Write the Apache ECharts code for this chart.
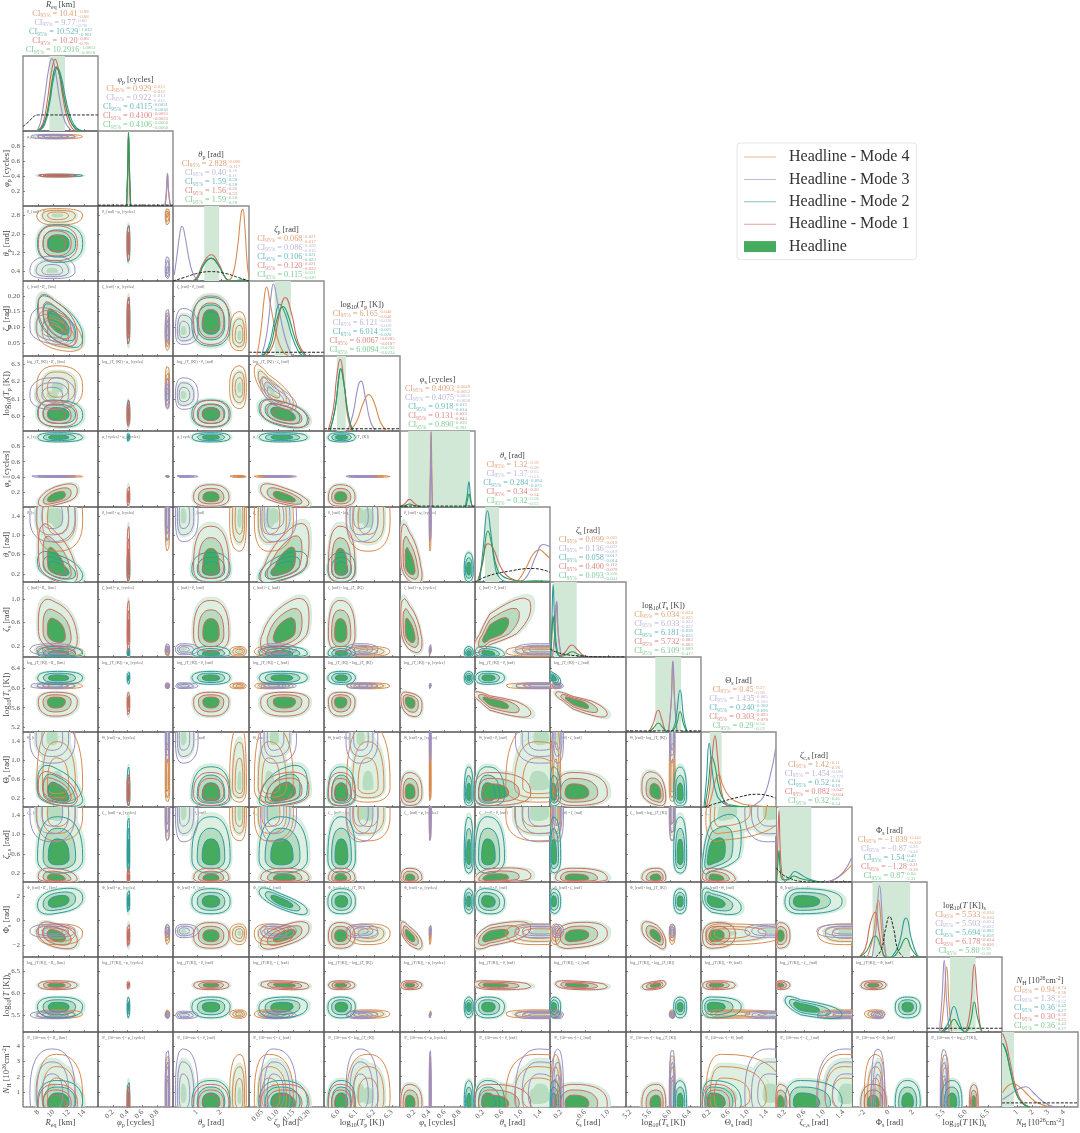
<!DOCTYPE html>
<html>
<head>
<meta charset="utf-8">
<title>Corner plot</title>
<script src="https://cdn.jsdelivr.net/npm/echarts@6/dist/echarts.min.js"></script>
<style>
  html, body { margin: 0; background: #fff; }
  #main { width: 1080px; height: 1133px; }
</style>
</head>
<body>
<div id="main"></div>
<script>
// parameters, in corner plot order
var paramLabels = ['R_{eq} [km]', 'φ_{p} [cycles]', 'θ_{p} [rad]', 'ζ_{p} [rad]', 'log_{10}(T_{p} [K])', 'φ_{s} [cycles]', 'θ_{s} [rad]', 'ζ_{s} [rad]', 'log_{10}(T_{s} [K])', 'Θ_{s} [rad]', 'ζ_{c,s} [rad]', 'Φ_{s} [rad]', 'log_{10}(T [K])_{s}', 'N_{H} [10^{26}cm^{-2}]']
var axisMin = [6, 0, 0, 0.008, 5.917, 0.01, 0.03, 0.007, 5.11, 0.018, 0.017, -3, 5.12, 0.03]
var axisMax = [15.8, 1.01, 3.18, 0.248, 6.346, 1, 1.59, 1.297, 6.62, 1.588, 1.572, 3.14, 6.816, 4.9]
var xTicks = [[8, 10, 12, 14], [0.2, 0.4, 0.6, 0.8], [1, 2], [0.05, 0.1, 0.15, 0.2], [6, 6.1, 6.2, 6.3], [0.2, 0.4, 0.6, 0.8], [0.2, 0.6, 1, 1.4], [0.2, 0.6, 1], [5.2, 5.6, 6, 6.4], [0.2, 0.6, 1, 1.4], [0.2, 0.6, 1, 1.4], [-2, 0, 2], [5.5, 6, 6.5], [1, 2, 3, 4]]
var yTicks = [[], [0.2, 0.4, 0.6, 0.8], [0.4, 1.2, 2, 2.8], [0.05, 0.1, 0.15, 0.2], [6, 6.1, 6.2, 6.3], [0.2, 0.4, 0.6, 0.8], [0.2, 0.6, 1, 1.4], [0.2, 0.6, 1], [5.2, 5.6, 6, 6.4], [0.2, 0.6, 1, 1.4], [0.2, 0.6, 1, 1.4], [-2, 0, 2], [5.5, 6, 6.5], [1, 2, 3, 4]]
var xDecimals = [0, 1, 0, 2, 1, 1, 1, 1, 1, 1, 1, 0, 1, 0]
var yDecimals = [0, 1, 1, 2, 1, 1, 1, 1, 1, 1, 1, 0, 1, 0]

// title read outs, one line per mode from top to bottom: value, plus, minus
var ciOrange = [['10.41','0.98','0.88'],['0.929','0.013','0.012'],['2.828','0.086','0.117'],['0.068','0.021','0.017'],['6.165','0.040','0.040'],['0.4093','0.0049','0.0052'],['1.32','0.16','0.18'],['0.099','0.025','0.019'],['6.034','0.024','0.025'],['0.45','0.37','0.18'],['1.42','0.11','0.26'],['−1.039','0.341','0.332'],['5.533','0.030','0.030'],['0.94','0.74','0.38']]
var ciPurple = [['9.77','0.80','0.78'],['0.922','0.013','0.012'],['0.40','0.16','0.11'],['0.086','0.020','0.016'],['6.121','0.030','0.029'],['0.4075','0.0051','0.0038'],['1.37','0.15','0.13'],['0.136','0.032','0.019'],['6.033','0.022','0.022'],['1.435','0.085','0.105'],['1.454','0.083','0.179'],['−0.87','0.26','0.20'],['5.503','0.024','0.022'],['1.38','0.51','0.52']]
var ciTeal = [['10.529','1.032','0.901'],['0.4115','0.0031','0.0036'],['1.59','0.28','0.28'],['0.106','0.021','0.023'],['6.014','0.025','0.020'],['0.918','0.015','0.014'],['0.284','0.094','0.075'],['0.058','0.017','0.014'],['6.181','0.036','0.035'],['0.240','0.360','0.096'],['0.52','0.24','0.16'],['1.54','0.40','0.45'],['5.694','0.082','0.056'],['0.36','0.43','0.27']]
var ciRed = [['10.20','0.88','0.78'],['0.4100','0.0031','0.0035'],['1.56','0.26','0.33'],['0.120','0.021','0.022'],['6.0067','0.0285','0.0187'],['0.131','0.033','0.043'],['0.34','0.30','0.14'],['0.400','0.112','0.079'],['5.732','0.083','0.083'],['0.303','0.093','0.078'],['0.082','0.047','0.024'],['−1.28','0.31','0.36'],['6.178','0.034','0.030'],['0.30','0.30','0.21']]
var ciGreen = [['10.2916','1.0863','0.8628'],['0.4106','0.0060','0.0060'],['1.59','0.28','0.28'],['0.115','0.021','0.026'],['6.0094','0.0232','0.0224'],['0.890','0.036','0.781'],['0.32','0.18','0.13'],['0.093','0.320','0.041'],['6.109','0.089','0.417'],['0.29','0.14','0.13'],['0.32','0.41','0.24'],['0.87','0.84','2.31'],['5.80','0.39','0.18'],['0.36','0.43','0.27']]

// green 1D interval on the diagonal
var bandLow = [9.45, 0.4, 1.31, 0.09, 5.989, 0.118, 0.24, 0.072, 5.7, 0.2, 0.066, -1.32, 5.64, 0.03]
var bandHigh = [11.49, 0.42, 1.93, 0.142, 6.04, 0.934, 0.53, 0.46, 6.22, 0.45, 0.74, 1.76, 6.22, 0.8]

// each 2D island is summarised by what can be read off the picture:
// where it sits on each parameter and how far its outer contour reaches below and above
var mode1Centre = [10.2, 0.41, 1.58, 0.12, 6.007, 0.13, 0.34, 0.4, 5.73, 0.3, 0.082, -1.28, 6.178, 0.2]
var mode1Below = [2.2, 0.018, 0.72, 0.075, 0.065, 0.11, 0.33, 0.3, 0.3, 0.25, 0.07, 1, 0.1, 0.7]
var mode1Above = [2.9, 0.018, 0.76, 0.08, 0.085, 0.17, 0.85, 0.58, 0.18, 0.44, 0.22, 1.1, 0.1, 1.3]
var mode2Centre = [10.5, 0.41, 1.59, 0.11, 6.014, 0.918, 0.284, 0.058, 6.2, 0.24, 0.52, 1.54, 5.69, 0.25]
var mode2Below = [2.6, 0.018, 0.8, 0.07, 0.075, 0.06, 0.25, 0.05, 0.13, 0.2, 0.32, 1, 0.25, 0.7]
var mode2Above = [3.3, 0.018, 0.8, 0.085, 0.08, 0.06, 0.36, 0.13, 0.13, 0.62, 0.85, 1.05, 0.22, 1.5]
var mode3Centre = [9.8, 0.935, 0.4, 0.085, 6.121, 0.408, 1.37, 0.136, 6.04, 1.435, 1.45, -0.87, 5.5, 0.8]
var mode3Below = [2.9, 0.03, 0.3, 0.04, 0.08, 0.012, 0.5, 0.09, 0.055, 0.5, 0.6, 0.55, 0.08, 2]
var mode3Above = [3, 0.03, 0.65, 0.075, 0.1, 0.012, 0.8, 0.1, 0.06, 1, 1, 0.55, 0.09, 3]
var mode4Centre = [10.4, 0.935, 2.8, 0.07, 6.165, 0.408, 1.32, 0.099, 6.04, 0.45, 1.42, -1.04, 5.53, 0.6]
var mode4Below = [2.6, 0.03, 0.43, 0.045, 0.12, 0.012, 0.65, 0.08, 0.06, 0.33, 0.55, 0.95, 0.1, 1.5]
var mode4Above = [3.4, 0.03, 0.27, 0.08, 0.125, 0.012, 1, 0.09, 0.06, 1.3, 1, 0.75, 0.09, 2.85]

// how much an island leans, 'row,column': mode 1, mode 2, mode 3, mode 4
var leans = {
  '3,0': [-0.6, -0.6, -0.3, -0.4], '4,0': [-0.1, -0.1, 0, 0], '4,3': [-0.45, -0.45, -0.75, -0.8],
  '5,0': [0.55, 0, 0, 0], '5,3': [-0.65, 0, 0, 0], '6,0': [-0.5, -0.5, 0, 0], '6,3': [0.6, 0.55, 0, 0],
  '6,5': [-0.5, 0, 0, 0], '7,0': [-0.3, 0, 0, 0], '7,3': [0.5, 0, 0, 0], '7,5': [-0.5, 0, 0, 0],
  '7,6': [0.8, -0.2, 0, 0], '8,0': [0, 0, 0, 0], '8,5': [-0.3, 0, 0, 0], '8,6': [-0.8, 0, 0, 0],
  '8,7': [-0.85, -0.6, 0, 0], '9,0': [-0.4, -0.4, 0, 0], '9,3': [0.2, 0.4, 0, 0], '9,8': [-0.3, 0, 0, 0],
  '10,0': [-0.2, 0, 0, 0], '10,6': [0.3, 0, 0, 0], '10,9': [-0.2, 0.5, 0, 0.2], '11,0': [-0.4, 0.3, 0, 0], '11,3': [0.6, -0.8, 0, 0],
  '11,5': [-0.7, 0, 0, 0], '11,6': [0.6, -0.1, 0, 0], '11,7': [0.2, 0, 0, 0], '11,8': [-0.6, 0, 0, 0],
  '11,9': [0.1, -0.5, 0, 0], '12,3': [-0.2, 0.1, 0, 0], '12,6': [-0.2, 0, 0, 0], '12,7': [-0.3, 0, 0, 0],
  '12,8': [0.4, 0, 0, 0], '12,10': [0, -0.7, 0, 0]
}

var diagMode1 = [
  [[7.9,0],[8.6,.1],[9.2,.42],[9.7,.78],[10.2,.955],[10.7,.78],[11.2,.45],[11.8,.17],[12.4,.04],[13,0]],
  [[.385,0],[.4,.45],[.41,.97],[.42,.45],[.435,0]],
  [[.8,0],[1,.05],[1.3,.26],[1.6,.35],[1.9,.24],[2.2,.04],[2.4,0]],
  [[.06,0],[.085,.15],[.105,.55],[.124,.78],[.145,.55],[.165,.18],[.19,.01]],
  [[5.94,0],[5.97,.3],[5.99,.75],[6.008,.955],[6.03,.65],[6.05,.2],[6.075,0]],
  [[.01,.005],[.07,.04],[.135,.1],[.2,.05],[.27,.005],[.3,0]],
  [[.08,0],[.17,.2],[.3,.51],[.4,.46],[.55,.22],[.7,.08],[.9,.02],[1.1,0]],
  [[.17,0],[.26,.06],[.38,.16],[.48,.09],[.6,.01],[.7,0]],
  [[5.57,0],[5.65,.1],[5.76,.29],[5.83,.17],[5.9,.02],[5.95,0]],
  [[.13,0],[.2,.25],[.27,.8],[.31,.95],[.36,.7],[.43,.28],[.52,.05],[.62,0]],
  [[.03,0],[.055,.55],[.078,.95],[.1,.5],[.14,.1],[.2,0]],
  [[-2.4,0],[-1.9,.12],[-1.5,.45],[-1.1,.6],[-.8,.35],[-.45,.03],[-.2,0]],
  [[6,0],[6.1,.3],[6.19,.9],[6.26,.45],[6.33,.05],[6.38,0]],
  [[.07,.98],[.3,.85],[.52,.63],[.96,.23],[1.4,.05],[1.83,0]]
]
var diagMode2 = [
  [[8,0],[8.8,.08],[9.5,.38],[10,.7],[10.5,.84],[11,.72],[11.6,.42],[12.3,.16],[13,.04],[13.8,0]],
  [[.385,0],[.4,.45],[.412,.95],[.424,.45],[.44,0]],
  [[.85,0],[1.05,.05],[1.3,.22],[1.6,.3],[1.9,.21],[2.2,.04],[2.4,0]],
  [[.05,0],[.07,.12],[.09,.47],[.106,.69],[.125,.55],[.145,.27],[.165,.07],[.18,0]],
  [[5.95,0],[5.98,.3],[6,.7],[6.012,.83],[6.03,.62],[6.055,.2],[6.08,0]],
  [[.87,0],[.895,.14],[.92,.33],[.94,.14],[.96,0]],
  [[.13,0],[.2,.45],[.29,.95],[.36,.65],[.45,.2],[.55,.05],[.7,0]],
  [[.02,0],[.04,.5],[.06,.97],[.085,.5],[.13,.08],[.18,0]],
  [[6.02,0],[6.1,.12],[6.2,.56],[6.27,.2],[6.34,0]],
  [[.08,0],[.13,.35],[.19,.85],[.25,.5],[.33,.2],[.45,.07],[.6,.02],[.8,0]],
  [[.2,0],[.3,.07],[.4,.14],[.5,.11],[.65,.05],[.85,.01],[1,0]],
  [[.25,0],[.8,.15],[1.43,.52],[1.9,.22],[2.35,.02],[2.6,0]],
  [[5.45,0],[5.6,.12],[5.73,.34],[5.85,.14],[5.95,.01],[6,0]],
  [[.07,.85],[.3,.75],[.55,.5],[.96,.18],[1.4,.04],[1.8,0]]
]
var diagMode3 = [
  [[7.8,0],[8.3,.12],[8.9,.5],[9.4,.85],[9.77,.965],[10.2,.82],[10.8,.42],[11.5,.12],[12.4,0]],
  [[.9,0],[.92,.2],[.935,.43],[.95,.2],[.975,0]],
  [[.05,.08],[.15,.3],[.3,.66],[.38,.73],[.5,.6],[.7,.25],[.9,.06],[1.13,0]],
  [[.048,0],[.065,.3],[.08,.85],[.0855,.96],[.1,.7],[.12,.3],[.14,.05],[.152,0]],
  [[6.05,0],[6.08,.22],[6.11,.6],[6.126,.665],[6.15,.45],[6.18,.12],[6.21,0]],
  [[.405,0],[.415,.5],[.42,.99],[.425,.5],[.435,0]],
  [[.9,0],[1,.01],[1.15,.12],[1.3,.35],[1.45,.5],[1.59,.47]],
  [[.05,0],[.09,.3],[.123,.74],[.15,.3],[.2,0]],
  [[5.97,0],[6.02,.4],[6.056,.95],[6.09,.4],[6.14,0]],
  [[1.1,0],[1.15,.03],[1.32,.13],[1.46,.4],[1.58,.78]],
  [[1,0],[1.2,.03],[1.35,.1],[1.47,.2],[1.57,.33]],
  [[-1.35,0],[-1.05,.35],[-.75,.95],[-.45,.35],[-.2,0]],
  [[5.4,0],[5.46,.45],[5.51,.955],[5.56,.45],[5.62,0]],
  [[.07,.1],[.5,.16],[1,.23],[1.57,.27],[2,.2],[2.5,.1],[3,.03],[3.4,.005],[3.7,0]]
]
var diagMode4 = [
  [[8,0],[8.8,.1],[9.4,.4],[9.9,.73],[10.41,.86],[10.9,.72],[11.5,.4],[12.2,.13],[12.9,.02],[13.3,0]],
  [[.905,0],[.925,.2],[.937,.435],[.95,.2],[.975,0]],
  [[2.3,0],[2.5,.08],[2.7,.45],[2.85,.9],[2.92,.955],[3,.75],[3.1,.25],[3.18,.05]],
  [[.033,0],[.045,.3],[.058,.82],[.064,.92],[.075,.72],[.095,.3],[.115,.07],[.134,0]],
  [[6.06,0],[6.1,.12],[6.14,.38],[6.17,.485],[6.2,.38],[6.235,.12],[6.27,0]],
  [[.4,0],[.41,.5],[.42,.99],[.43,.5],[.44,0]],
  [[.85,0],[.95,.04],[1.1,.2],[1.25,.38],[1.37,.43],[1.48,.38],[1.59,.31]],
  [[.045,0],[.085,.3],[.115,.74],[.145,.3],[.2,0]],
  [[5.96,0],[6.02,.4],[6.05,.94],[6.09,.4],[6.13,0]],
  [[.15,0],[.22,.1],[.33,.38],[.39,.43],[.47,.3],[.6,.15],[.8,.06],[1.1,.02],[1.58,0]],
  [[1.05,0],[1.2,.03],[1.4,.12],[1.57,.23]],
  [[-1.75,0],[-1.3,.25],[-.85,.76],[-.5,.25],[-.2,0]],
  [[5.43,0],[5.5,.35],[5.565,.87],[5.62,.35],[5.68,0]],
  [[.07,.19],[.35,.27],[.72,.31],[1.2,.26],[1.6,.18],[2.1,.08],[2.5,.04],[3.1,0]]
]
var diagHeadline = [
  [[7.9,0],[8.7,.09],[9.4,.38],[9.9,.72],[10.3,.85],[10.8,.74],[11.4,.42],[12.1,.15],[12.9,.03],[13.6,0]],
  [[.385,0],[.4,.5],[.411,.99],[.424,.5],[.44,0]],
  [[.85,0],[1.05,.05],[1.3,.23],[1.6,.305],[1.9,.21],[2.2,.04],[2.4,0],[2.9,.015],[3.18,0]],
  [[.05,0],[.075,.12],[.095,.45],[.117,.66],[.135,.52],[.155,.24],[.175,.06],[.19,0]],
  [[5.95,0],[5.98,.3],[6,.7],[6.01,.83],[6.03,.62],[6.055,.2],[6.08,0]],
  [[.01,.005],[.07,.015],[.135,.04],[.2,.02],[.3,0],[.87,0],[.895,.07],[.92,.17],[.945,.07],[.965,0]],
  [[.1,0],[.2,.32],[.3,.68],[.38,.5],[.48,.2],[.6,.08],[.8,.03],[1,.01],[1.3,.015],[1.59,.01]],
  [[.02,0],[.04,.28],[.06,.55],[.085,.3],[.13,.05],[.2,.01],[.3,.04],[.38,.07],[.5,.03],[.65,0]],
  [[5.57,0],[5.66,.05],[5.76,.12],[5.85,.06],[5.95,0],[6.1,.06],[6.2,.27],[6.27,.1],[6.34,0]],
  [[.1,0],[.17,.3],[.25,.67],[.31,.55],[.4,.25],[.52,.07],[.7,.02],[1,0]],
  [[.03,0],[.055,.25],[.078,.42],[.1,.2],[.16,.03],[.25,.03],[.38,.08],[.5,.05],[.7,.02],[1,0]],
  [[-2.4,0],[-1.8,.08],[-1.1,.28],[-.6,.12],[-.2,0],[.25,0],[.8,.08],[1.43,.25],[1.9,.1],[2.4,0]],
  [[5.45,0],[5.6,.06],[5.73,.17],[5.85,.07],[5.98,0],[6.1,.13],[6.19,.4],[6.26,.2],[6.36,0]],
  [[.07,.85],[.3,.73],[.55,.5],[.96,.17],[1.4,.04],[1.8,0]]
]
var diagPrior = [
  [[6,.06],[6.8,.13],[7.5,.2],[8,.214],[15.8,.214]],
  [[0,.012],[1.01,.012]],
  [[0,0],[.5,.05],[1,.1],[1.59,.125],[2.2,.1],[2.7,.05],[3.18,0]],
  [[.008,.05],[.248,.05]],
  [[5.917,.03],[6.346,.03]],
  [[.01,.012],[1,.012]],
  [[.03,0],[.3,.08],[.7,.14],[1.24,.18],[1.59,.13]],
  [[.01,.11],[.1,.07],[.3,.03],[.52,.015],[.8,.003],[1.29,0]],
  [[5.11,.015],[6.62,.015]],
  [[.1,0],[.4,.06],[.8,.13],[1.2,.17],[1.4,.155],[1.58,.12]],
  [[.017,.19],[.15,.1],[.3,.05],[.5,.01],[.8,0],[1.57,0]],
  [[-1.05,0],[-.6,.1],[-.25,.38],[.07,.54],[.4,.38],[.75,.1],[1.2,0]],
  [[5.12,.05],[6.816,.05]],
  [[.03,.055],[4.9,.055]]
]

var modeNames = ['Headline - Mode 1', 'Headline - Mode 2', 'Headline - Mode 3', 'Headline - Mode 4']
var modeColors = ['#cf6a62', '#2f9a9e', '#9c8fc4', '#d98a4f']
var greenDark = '#47ab5f', greenMid = '#b8dcc0', greenLight = '#dcefe0', bandColor = '#d0e8d5'
var serif = 'Liberation Serif'
var centres = [mode1Centre, mode2Centre, mode3Centre, mode4Centre]
var belows = [mode1Below, mode2Below, mode3Below, mode4Below]
var aboves = [mode1Above, mode2Above, mode3Above, mode4Above]
var diagModes = [diagMode1, diagMode2, diagMode3, diagMode4]

var n = 14
var gridLeft = [], gridTop = []
for (var k = 0; k <= n; k++) {
  gridLeft.push(Math.round(22.7 + 75.36 * k))
  gridTop.push(Math.round(56 + 75.09 * k))
}

var measure = document.createElement('canvas').getContext('2d')
function textWidth(text, font) {
  measure.font = font
  return measure.measureText(text).width
}
function fontOf(size, italic) {
  return (italic ? 'italic ' : '') + size + 'px "' + serif + '"'
}
function piece(text, x, y, size, color, italic) {
  return { type: 'text', x: x, y: y, silent: true, style: { text: text, font: fontOf(size, italic), fill: color, textAlign: 'left', textVerticalAlign: 'middle' } }
}

// small markup used by labels, _{} is a subscript, ^{} a superscript
function splitLabel(str) {
  var out = [], i = 0, buf = ''
  function flush() { if (buf) { out.push({ t: buf, lift: 0 }); buf = '' } }
  while (i < str.length) {
    var c = str[i]
    if ((c === '_' || c === '^') && str[i + 1] === '{') {
      flush()
      var end = str.indexOf('}', i)
      out.push({ t: str.slice(i + 2, end), lift: c === '_' ? 1 : -1 })
      i = end + 1
    } else if ('RφθζTN'.indexOf(c) >= 0) {
      flush()
      out.push({ t: c, lift: 0, italic: true })
      i++
    } else {
      buf += c
      i++
    }
  }
  flush()
  return out
}
function labelGroup(str, cx, cy, size, color, rotation) {
  var parts = splitLabel(str), total = 0
  parts.forEach(function (p) {
    p.size = p.lift ? size * 0.7 : size
    p.w = textWidth(p.t, fontOf(p.size, p.italic))
    total += p.w
  })
  var x = -total / 2
  var children = parts.map(function (p) {
    var el = piece(p.t, x, p.lift * size * 0.3, p.size, color, p.italic)
    x += p.w
    return el
  })
  return { type: 'group', x: cx, y: cy, rotation: rotation || 0, silent: true, children: children }
}
function labelGroupLeft(str, left, cy, size, color) {
  var g = labelGroup(str, 0, cy, size, color)
  var parts = splitLabel(str), total = 0
  parts.forEach(function (p) { total += textWidth(p.t, fontOf(p.lift ? size * 0.7 : size, p.italic)) })
  g.x = left + total / 2
  return g
}
function ciLine(ci, cx, cy, color) {
  var size = 8.2, small = 5.4, tiny = 4.8
  var head = 'CI', sub = '95%', body = ' = ' + ci[0]
  var w1 = textWidth(head, fontOf(size)), w2 = textWidth(sub, fontOf(small)), w3 = textWidth(body, fontOf(size))
  var w4 = Math.max(textWidth('+' + ci[1], fontOf(tiny)), textWidth('−' + ci[2], fontOf(tiny)))
  var x = -(w1 + w2 + w3 + w4) / 2
  return {
    type: 'group', x: cx, y: cy, silent: true,
    children: [
      piece(head, x, 0, size, color),
      piece(sub, x + w1, 2, small, color),
      piece(body, x + w1 + w2, 0, size, color),
      piece('+' + ci[1], x + w1 + w2 + w3, -2.4, tiny, color),
      piece('−' + ci[2], x + w1 + w2 + w3, 2.6, tiny, color)
    ]
  }
}

// closed outline of an island, drawn in data units and mapped by the axes
function outline(m, col, row, scale) {
  var lean = (leans[row + ',' + col] || [0, 0, 0, 0])[m]
  var cx = centres[m][col], cy = centres[m][row]
  var pts = []
  for (var a = 0; a <= 40; a++) {
    var t = a / 40 * 2 * Math.PI
    var c = Math.cos(t), s = Math.sin(t)
    var ux = (c < 0 ? -1 : 1) * Math.pow(Math.abs(c), 0.8)
    var vy = (s < 0 ? -1 : 1) * Math.pow(Math.abs(s), 0.8)
    var uy = lean * ux + Math.sqrt(1 - lean * lean) * vy
    pts.push([
      cx + ux * (ux > 0 ? aboves[m][col] : belows[m][col]) * scale,
      cy + uy * (uy > 0 ? aboves[m][row] : belows[m][row]) * scale
    ])
  }
  return pts
}

var grids = [], xAxes = [], yAxes = [], series = [], texts = []
function addAxes(row, col) {
  var bottom = row === n - 1, left = col === 0 && row > 0
  grids.push({
    left: gridLeft[col], top: gridTop[row],
    width: gridLeft[col + 1] - gridLeft[col], height: gridTop[row + 1] - gridTop[row],
    show: true, borderColor: row === col ? '#8a8a8a' : '#555', borderWidth: row === col ? 1.4 : 1, backgroundColor: 'transparent'
  })
  var idx = grids.length - 1
  xAxes.push({
    type: 'value', gridIndex: idx, min: axisMin[col], max: axisMax[col],
    splitLine: { show: false }, axisLine: { show: false, onZero: false },
    axisTick: { show: true, inside: true, length: 2, lineStyle: { color: '#555', width: 0.7 }, customValues: xTicks[col] },
    minorTick: { show: true, splitNumber: 5, length: 1, lineStyle: { color: '#777', width: 0.5 } },
    axisLabel: {
      show: bottom, rotate: 45, margin: 4, fontFamily: serif, fontSize: 7.5, color: '#555', customValues: xTicks[col],
      formatter: function (v) { return v.toFixed(xDecimals[col]).replace('-', '−') }
    }
  })
  var diag = row === col
  yAxes.push({
    type: 'value', gridIndex: idx, min: diag ? 0 : axisMin[row], max: diag ? 1 : axisMax[row],
    splitLine: { show: false }, axisLine: { show: false, onZero: false },
    axisTick: { show: !diag, inside: true, length: 2, lineStyle: { color: '#555', width: 0.7 }, customValues: yTicks[row] },
    minorTick: { show: !diag, splitNumber: 5, length: 1, lineStyle: { color: '#777', width: 0.5 } },
    axisLabel: {
      show: left, margin: 3, fontFamily: serif, fontSize: 7, color: '#555', customValues: yTicks[row],
      formatter: function (v) { return v.toFixed(yDecimals[row]).replace('-', '−') }
    }
  })
  return idx
}

function polygonRender(polys) {
  return function (params, api) {
    var item = polys[params.dataIndex]
    var pts = item.pts.map(function (p) { return api.coord(p) })
    return {
      type: 'polygon',
      shape: { points: echarts.graphic.clipPointsByRect(pts, params.coordSys) },
      style: { fill: item.fill, stroke: item.stroke || null, lineWidth: item.stroke ? 0.6 : 0 }
    }
  }
}

for (var row = 0; row < n; row++) {
  for (var col = 0; col <= row; col++) {
    var idx = addAxes(row, col)
    if (row === col) {
      // 1D panel
      var band = [{ pts: [[bandLow[col], 0], [bandHigh[col], 0], [bandHigh[col], 1], [bandLow[col], 1]], fill: bandColor }]
      series.push({
        type: 'custom', name: 'band', xAxisIndex: idx, yAxisIndex: idx, silent: true, clip: true, z: 2,
        data: [[bandLow[col], 0]], renderItem: polygonRender(band)
      })
      series.push({
        type: 'line', name: 'prior', xAxisIndex: idx, yAxisIndex: idx, data: diagPrior[col], symbol: 'none', silent: true, z: 4,
        smooth: 0.5, lineStyle: { color: '#222', width: 1, type: [3, 1.5] }
      })
      for (var m = 3; m >= 0; m--) {
        series.push({
          type: 'line', name: modeNames[m], xAxisIndex: idx, yAxisIndex: idx, data: diagModes[m][col], symbol: 'none', silent: true, z: 3,
          smooth: 0.5, itemStyle: { color: modeColors[m] }, lineStyle: { color: modeColors[m], width: 1.1 }
        })
      }
      series.push({
        type: 'line', name: 'Headline curve', xAxisIndex: idx, yAxisIndex: idx, data: diagHeadline[col], symbol: 'none', silent: true, z: 3,
        smooth: 0.5, lineStyle: { color: '#2f9a55', width: 1.1 }
      })
      continue
    }
    // 2D panel, headline fills stacked light to dark, mode contours on top
    var polys = [], m2
    for (m2 = 0; m2 < 4; m2++) polys.push({ pts: outline(m2, col, row, m2 < 2 ? 1.1 : 0.8), fill: greenLight, stroke: '#bfe2c7' })
    for (m2 = 0; m2 < 4; m2++) polys.push({ pts: outline(m2, col, row, m2 < 2 ? 0.72 : 0.25), fill: greenMid })
    for (m2 = 0; m2 < 2; m2++) polys.push({ pts: outline(m2, col, row, 0.46), fill: greenDark })
    series.push({
      type: 'custom', name: 'Headline', xAxisIndex: idx, yAxisIndex: idx, silent: true, clip: true, z: 2,
      itemStyle: { color: greenDark },
      data: polys.map(function (p) { return p.pts[0] }), renderItem: polygonRender(polys)
    })
    for (var m3 = 3; m3 >= 0; m3--) {
      var line = []
      ;[0.46, 0.72, 1].forEach(function (level) {
        line = line.concat(outline(m3, col, row, level))
        line.push([NaN, NaN])
      })
      series.push({
        type: 'line', name: modeNames[m3], xAxisIndex: idx, yAxisIndex: idx, data: line, symbol: 'none', silent: true, z: 3,
        itemStyle: { color: modeColors[m3] }, lineStyle: { color: modeColors[m3], width: 1 }
      })
    }
    texts.push(labelGroupLeft(paramLabels[row] + ' - ' + paramLabels[col], gridLeft[col] + 4, gridTop[row] + 6, 4, '#666'))
  }
}

// titles above the diagonal
var titleColors = ['#e0a27a', '#bdb4d8', '#6db8bc', '#dc8a85', '#7fcb93']
var ciTables = [ciOrange, ciPurple, ciTeal, ciRed, ciGreen]
for (var c2 = 0; c2 < n; c2++) {
  var mid = (gridLeft[c2] + gridLeft[c2 + 1]) / 2
  texts.push(labelGroup(paramLabels[c2], mid, gridTop[c2] - 51, 8.4, '#444'))
  for (var line2 = 0; line2 < 5; line2++) {
    texts.push(ciLine(ciTables[line2][c2], mid, gridTop[c2] - 42 + line2 * 9.05, titleColors[line2]))
  }
  texts.push(labelGroup(paramLabels[c2], mid, 1123, 8.6, '#444'))
  if (c2 > 0) texts.push(labelGroup(paramLabels[c2], 6.5, (gridTop[c2] + gridTop[c2 + 1]) / 2, 8.6, '#444', Math.PI / 2))
}

// thin line glyph for the legend, the two specks keep the glyph box at full item height
var legendLine = 'path://M0,0 L0.01,0 L0.01,0.01 Z M0,50 L320,50 L320,60 L0,60 Z M0,110 L0.01,110 L0.01,109.99 Z'
function legendEntry(m) {
  return { name: modeNames[m], icon: legendLine, itemStyle: { color: modeColors[m], opacity: 0.6 } }
}
var chart = echarts.init(document.getElementById('main'), null, { renderer: 'canvas' })
chart.setOption({
  animation: false,
  backgroundColor: '#fff',
  grid: grids,
  xAxis: xAxes,
  yAxis: yAxes,
  series: series,
  legend: {
    left: 737, top: 143, orient: 'vertical', selectedMode: false,
    padding: [6, 7, 5, 7], borderColor: '#e6e6e6', borderWidth: 1, borderRadius: 3,
    itemWidth: 32, itemHeight: 11, itemGap: 6.4,
    textStyle: { fontFamily: serif, fontSize: 16, color: '#333', padding: [0, 0, 0, 8] },
    data: [legendEntry(3), legendEntry(2), legendEntry(1), legendEntry(0), { name: 'Headline', icon: 'rect' }]
  },
  graphic: { elements: texts }
})
</script>
</body>
</html>
